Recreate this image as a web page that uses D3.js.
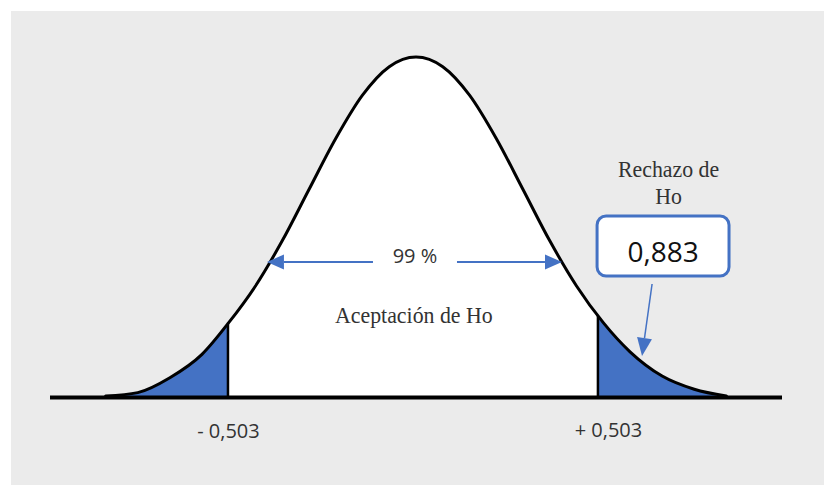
<!DOCTYPE html>
<html>
<head>
<meta charset="utf-8">
<script src="https://cdn.jsdelivr.net/npm/d3@7/dist/d3.min.js"></script>
<style>
  html, body { margin: 0; padding: 0; background: #ffffff; }
  svg { display: block; }
</style>
</head>
<body>
<svg id="chart" width="824" height="485"></svg>
<script>
// ---- data ----
const curveZ       = [-2.9, -2.6, -2.3, -2.0, -1.75, -1.5, -1.25, -1.0, -0.75, -0.5, -0.25, 0, 0.25, 0.5, 0.75, 1.0, 1.25, 1.5, 1.75, 2.0, 2.3, 2.6, 2.9];
const curveDensity = [0.0, 0.004, 0.0215, 0.049, 0.0863, 0.1295, 0.1826, 0.243, 0.303, 0.354, 0.3875, 0.3989, 0.3875, 0.354, 0.303, 0.243, 0.1826, 0.1295, 0.0863, 0.052, 0.0235, 0.008, 0.0];
const criticalZ    = [-1.757, 1.70];
const criticalLabels = ["- 0,503", "+ 0,503"];
const acceptPct    = "99 %";
const acceptLabel  = "Aceptación de Ho";
const rejectLabel  = ["Rechazo de", "Ho"];
const statValue    = "0,883";
const axisDomain   = [-3.42, 3.42];
const densityMax   = 0.3989;

// ---- setup ----
const W = 824, H = 485;
const svg = d3.select("#chart");
const blue = "#4472c4";
const textCol = "#333333";
const serif = "'Liberation Serif', 'Times New Roman', serif";
const sans = "'Open Sans', sans-serif";

const x = d3.scaleLinear().domain(axisDomain).range([50, 782]);
const y = d3.scaleLinear().domain([0, densityMax]).range([396, 57]);

const pts = curveZ.map((z, i) => ({ z, d: curveDensity[i] }));

// background panel
svg.append("rect").attr("x", 11).attr("y", 11).attr("width", W - 11).attr("height", H - 11).attr("fill", "#ebebeb");

const defs = svg.append("defs");
const area = d3.area().x(p => x(p.z)).y0(y(0)).y1(p => y(p.d)).curve(d3.curveMonotoneX);
const line = d3.line().x(p => x(p.z)).y(p => y(p.d)).curve(d3.curveMonotoneX);

defs.append("clipPath").attr("id", "under").append("path").attr("d", area(pts));

const regions = [
  { from: curveZ[0] - 0.1, to: criticalZ[0], fill: blue },
  { from: criticalZ[0], to: criticalZ[1], fill: "#ffffff" },
  { from: criticalZ[1], to: curveZ[curveZ.length - 1] + 0.1, fill: blue }
];
const gUnder = svg.append("g").attr("clip-path", "url(#under)");
regions.forEach(r => {
  gUnder.append("rect")
    .attr("x", x(r.from)).attr("y", 0)
    .attr("width", x(r.to) - x(r.from)).attr("height", y(0))
    .attr("fill", r.fill);
});
criticalZ.forEach(z => {
  gUnder.append("line")
    .attr("x1", x(z)).attr("x2", x(z)).attr("y1", 0).attr("y2", y(0))
    .attr("stroke", "#000").attr("stroke-width", 2.5);
});

// axis line
svg.append("line")
  .attr("x1", x(axisDomain[0])).attr("x2", x(axisDomain[1]))
  .attr("y1", y(0) + 1.5).attr("y2", y(0) + 1.5)
  .attr("stroke", "#000").attr("stroke-width", 4);

// curve
svg.append("path").attr("d", line(pts)).attr("fill", "none")
  .attr("stroke", "#000").attr("stroke-width", 3).attr("stroke-linejoin", "round").attr("stroke-linecap", "round");

// arrows
function arrow(x1, y1, x2, y2, len, halfW, sw) {
  const dx = x2 - x1, dy = y2 - y1, L = Math.hypot(dx, dy);
  const ux = dx / L, uy = dy / L;
  const bx = x2 - ux * len, by = y2 - uy * len;
  svg.append("line").attr("x1", x1).attr("y1", y1).attr("x2", bx).attr("y2", by)
    .attr("stroke", blue).attr("stroke-width", sw);
  svg.append("polygon")
    .attr("points", [[x2, y2], [bx - uy * halfW, by + ux * halfW], [bx + uy * halfW, by - ux * halfW]].map(p => p.join(",")).join(" "))
    .attr("fill", blue);
}
const arrowD = 0.1577;
arrow(x(-0.402), y(arrowD), x(-1.393), y(arrowD), 17, 7.5, 2);
arrow(x(0.383), y(arrowD), x(1.364), y(arrowD), 17, 7.5, 2);

function serifText(cx, by, str) {
  svg.append("text")
    .attr("transform", `translate(${cx},${by}) scale(0.91,1)`)
    .attr("text-anchor", "middle").attr("font-family", serif)
    .attr("font-size", 24).attr("fill", textCol).text(str);
}

// percentage + acceptance text
svg.append("text").attr("x", x(-0.01)).attr("y", y(arrowD) + 1)
  .attr("text-anchor", "middle").attr("font-family", sans)
  .attr("font-size", 20).attr("fill", textCol).text(acceptPct);
serifText(x(-0.02), 323, acceptLabel);

// rejection label
const rx = x(2.36);
serifText(rx, 177, rejectLabel[0]);
serifText(rx, 204, rejectLabel[1]);

// value box
const bx0 = x(1.692), bx1 = x(2.925), by0 = y(0.2118), by1 = y(0.1412);
svg.append("rect").attr("x", bx0).attr("y", by0).attr("width", bx1 - bx0).attr("height", by1 - by0)
  .attr("rx", 9).attr("ry", 9).attr("fill", "#ffffff").attr("stroke", blue).attr("stroke-width", 3);
svg.append("text").attr("x", (bx0 + bx1) / 2).attr("y", 262)
  .attr("text-anchor", "middle").attr("font-family", sans)
  .attr("font-size", 28).attr("fill", "#111").text(statValue);

// pointer arrow
arrow(x(2.206), y(0.1318), x(2.112), y(0.0471), 18, 7.5, 1.5);

// critical value labels
svg.append("text").attr("x", x(criticalZ[0]) + 0.5).attr("y", 438)
  .attr("text-anchor", "middle").attr("font-family", sans)
  .attr("font-size", 20).attr("fill", textCol).text(criticalLabels[0]);
svg.append("text").attr("x", x(criticalZ[1]) + 10.5).attr("y", 437)
  .attr("text-anchor", "middle").attr("font-family", sans)
  .attr("font-size", 20).attr("fill", textCol).text(criticalLabels[1]);
</script>
</body>
</html>
